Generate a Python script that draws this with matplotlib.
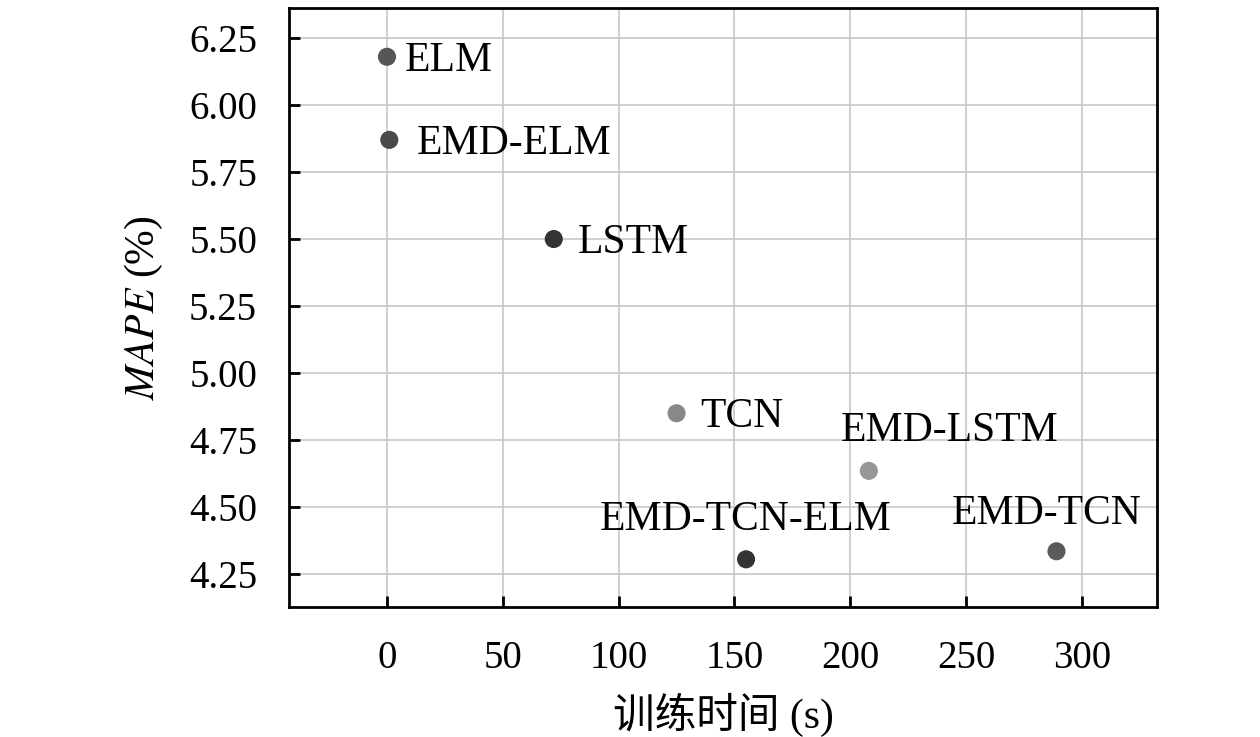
import matplotlib
matplotlib.use('Agg')
import matplotlib.pyplot as plt

plt.rcParams['font.family'] = ['Liberation Serif', 'Noto Sans CJK SC']
plt.rcParams['mathtext.fontset'] = 'stix'

# data
models = ['ELM', 'EMD-ELM', 'LSTM', 'TCN', 'EMD-LSTM', 'EMD-TCN-ELM', 'EMD-TCN']
train_time = [0.0, 1.0, 72.0, 125.0, 208.0, 155.0, 289.0]
mape = [6.18, 5.87, 5.50, 4.85, 4.635, 4.305, 4.335]
colors = ['#565656', '#4a4a4a', '#333333', '#888888', '#979797', '#343434', '#5a5a5a']

# label placement (offset in points, alignment)
label_pos = {
    'ELM': ((13, -3), 'left', 'center'),
    'EMD-ELM': ((19.5, -3), 'left', 'center'),
    'LSTM': ((17, -2.5), 'left', 'center'),
    'TCN': ((17, -2.5), 'left', 'center'),
    'EMD-LSTM': ((58, 29), 'center', 'center'),
    'EMD-TCN-ELM': ((0, 28.5), 'center', 'center'),
    'EMD-TCN': ((-7, 27), 'center', 'center'),
}

fig = plt.figure(figsize=(12.6, 7.37), dpi=100)
ax = fig.add_axes([289/1260, 1-607/737, (1157-289)/1260, (607-8)/737])

ax.scatter(train_time, mape, s=170, c=colors, zorder=3, linewidths=0)
for name, x, y in zip(models, train_time, mape):
    off, ha, va = label_pos[name]
    ax.annotate(name, (x, y), xytext=off, textcoords='offset points',
                ha=ha, va=va, fontsize=30)

ax.set_xlim(-42.3, 332.4)
ax.set_ylim(4.127, 6.362)
ax.set_xticks([0, 50, 100, 150, 200, 250, 300])
ax.set_yticks([4.25, 4.50, 4.75, 5.00, 5.25, 5.50, 5.75, 6.00, 6.25])
ax.set_yticklabels(['4.25', '4.50', '4.75', '5.00', '5.25', '5.50', '5.75', '6.00', '6.25'])
ax.grid(True, color='#c8c8c8', linewidth=1.2, zorder=0)
ax.set_axisbelow(True)
ax.tick_params(direction='in', length=8, width=2, labelsize=28)
ax.tick_params(axis='y', pad=23)
ax.tick_params(axis='x', pad=24)
for s in ax.spines.values():
    s.set_linewidth(2)

ax.set_xlabel('训练时间 (s)', fontsize=30, labelpad=11)
ax.set_ylabel(r'$\mathit{MAPE}$ (%)', fontsize=30, labelpad=17)

plt.savefig('out.png', dpi=100)
